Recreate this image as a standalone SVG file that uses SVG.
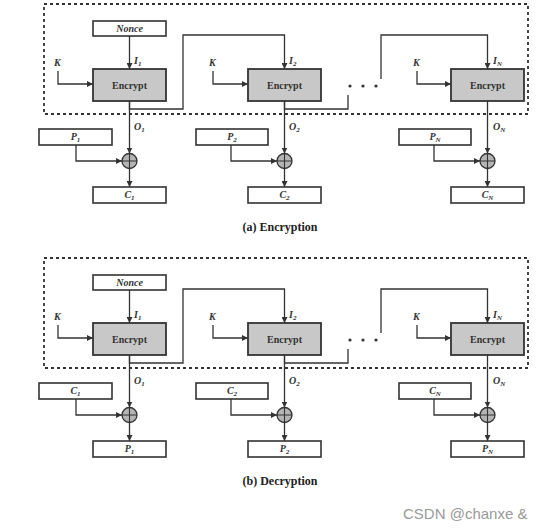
<svg xmlns="http://www.w3.org/2000/svg" width="546" height="530" viewBox="0 0 546 530">
<style>
.bg{fill:#ffffff}
.frame{fill:none;stroke:#333;stroke-width:1.8;stroke-dasharray:3 3}
.box{fill:#ffffff;stroke:#333;stroke-width:1.6}
.enc{fill:#c8c8c8;stroke:#333;stroke-width:1.8}
.xor{fill:#b4b4b4;stroke:#333;stroke-width:1.3}
.ln{fill:none;stroke:#333;stroke-width:1.3}
.lbl{font-family:"Liberation Serif","Times New Roman",serif;font-weight:bold;font-style:italic;font-size:10px;fill:#333}
.et{font-family:"Liberation Serif","Times New Roman",serif;font-weight:bold;font-size:10px;fill:#333;text-anchor:middle}
.mid{text-anchor:middle}
.sub{font-size:7px}
.cap{font-family:"Liberation Serif","Times New Roman",serif;font-weight:bold;font-size:12px;fill:#222;text-anchor:middle}
.wm{font-family:"Liberation Sans",Arial,sans-serif;font-size:15px;fill:#999}
</style>
<defs>
<marker id="ah" viewBox="0 0 8 8" refX="8" refY="4" markerWidth="6" markerHeight="6" markerUnits="userSpaceOnUse" orient="auto">
<path d="M0 0 L8 4 L0 8 Z" fill="#333"/>
</marker>
<g id="xorsym">
<circle r="7.5" class="xor"/>
<path d="M-7.5 0 H7.5 M0 -7.5 V7.5" stroke="#333" stroke-width="1.1"/>
</g>
</defs>
<rect class="bg" x="0" y="0" width="546" height="530"/>

<!-- ===== (a) Encryption ===== -->
<g id="panelA">
<rect id="frameA" class="frame" x="44" y="4" width="484" height="110"/>
<g id="connectorsA">
<path class="ln" d="M129.5 36 V69" marker-end="url(#ah)"/>
<path class="ln" d="M58 71 V84 H93" marker-end="url(#ah)"/>
<path class="ln" d="M213 71 V84 H248" marker-end="url(#ah)"/>
<path class="ln" d="M417 71 V84 H451" marker-end="url(#ah)"/>
<path class="ln" d="M129.5 101 V109 H183 V35 H284.5 V69" marker-end="url(#ah)"/>
<path class="ln" d="M284.5 101 V109 H348 V95"/>
<path class="ln" d="M381 79 V35 H487.5 V69" marker-end="url(#ah)"/>
<path class="ln" d="M129.5 101 V153.5" marker-end="url(#ah)"/>
<path class="ln" d="M284.5 101 V153.5" marker-end="url(#ah)"/>
<path class="ln" d="M487.5 101 V153.5" marker-end="url(#ah)"/>
<path class="ln" d="M76 145 V161 H122" marker-end="url(#ah)"/>
<path class="ln" d="M231 145 V161 H277" marker-end="url(#ah)"/>
<path class="ln" d="M434 145 V161 H480" marker-end="url(#ah)"/>
<path class="ln" d="M129.5 168.5 V187" marker-end="url(#ah)"/>
<path class="ln" d="M284.5 168.5 V187" marker-end="url(#ah)"/>
<path class="ln" d="M487.5 168.5 V187" marker-end="url(#ah)"/>
<circle cx="350" cy="86" r="1.6" fill="#333"/>
<circle cx="363" cy="86" r="1.6" fill="#333"/>
<circle cx="376" cy="86" r="1.6" fill="#333"/>
</g>
<g id="a-nonce"><rect class="box" x="93" y="21" width="73" height="15"/><text class="lbl mid" x="129.5" y="32">Nonce</text></g>
<g id="a-enc1"><rect class="enc" x="93" y="69" width="73" height="32"/><text class="et" x="129.5" y="89">Encrypt</text></g>
<g id="a-enc2"><rect class="enc" x="248" y="69" width="73" height="32"/><text class="et" x="284.5" y="89">Encrypt</text></g>
<g id="a-encN"><rect class="enc" x="451" y="69" width="73" height="32"/><text class="et" x="487.5" y="89">Encrypt</text></g>
<g id="a-labels">
<text class="lbl" x="54" y="66">K</text>
<text class="lbl" x="209" y="66">K</text>
<text class="lbl" x="413" y="66">K</text>
<text class="lbl" x="134" y="64">I<tspan class="sub" dy="2">1</tspan></text>
<text class="lbl" x="289" y="64">I<tspan class="sub" dy="2">2</tspan></text>
<text class="lbl" x="493" y="64">I<tspan class="sub" dy="2">N</tspan></text>
<text class="lbl" x="134" y="130">O<tspan class="sub" dy="2">1</tspan></text>
<text class="lbl" x="289" y="130">O<tspan class="sub" dy="2">2</tspan></text>
<text class="lbl" x="493" y="130">O<tspan class="sub" dy="2">N</tspan></text>
</g>
<g id="a-p1"><rect class="box" x="39" y="129" width="73" height="16"/><text class="lbl mid" x="75.5" y="140">P<tspan class="sub" dy="2">1</tspan></text></g>
<g id="a-p2"><rect class="box" x="196" y="129" width="72" height="16"/><text class="lbl mid" x="232" y="140">P<tspan class="sub" dy="2">2</tspan></text></g>
<g id="a-pN"><rect class="box" x="399" y="129" width="72" height="16"/><text class="lbl mid" x="435" y="140">P<tspan class="sub" dy="2">N</tspan></text></g>
<g id="a-x1"><use href="#xorsym" x="129.5" y="161"/></g>
<g id="a-x2"><use href="#xorsym" x="284.5" y="161"/></g>
<g id="a-xN"><use href="#xorsym" x="487.5" y="161"/></g>
<g id="a-c1"><rect class="box" x="93" y="187" width="73" height="16"/><text class="lbl mid" x="129.5" y="198">C<tspan class="sub" dy="2">1</tspan></text></g>
<g id="a-c2"><rect class="box" x="248" y="187" width="73" height="16"/><text class="lbl mid" x="284.5" y="198">C<tspan class="sub" dy="2">2</tspan></text></g>
<g id="a-cN"><rect class="box" x="451" y="187" width="73" height="16"/><text class="lbl mid" x="487.5" y="198">C<tspan class="sub" dy="2">N</tspan></text></g>
<text class="cap" x="280" y="231">(a) Encryption</text>
</g>

<!-- ===== (b) Decryption ===== -->
<g id="panelB" transform="translate(0,254)">
<rect id="frameB" class="frame" x="44" y="4" width="484" height="110"/>
<g id="connectorsB">
<path class="ln" d="M129.5 36 V69" marker-end="url(#ah)"/>
<path class="ln" d="M58 71 V84 H93" marker-end="url(#ah)"/>
<path class="ln" d="M213 71 V84 H248" marker-end="url(#ah)"/>
<path class="ln" d="M417 71 V84 H451" marker-end="url(#ah)"/>
<path class="ln" d="M129.5 101 V109 H183 V35 H284.5 V69" marker-end="url(#ah)"/>
<path class="ln" d="M284.5 101 V109 H348 V95"/>
<path class="ln" d="M381 79 V35 H487.5 V69" marker-end="url(#ah)"/>
<path class="ln" d="M129.5 101 V153.5" marker-end="url(#ah)"/>
<path class="ln" d="M284.5 101 V153.5" marker-end="url(#ah)"/>
<path class="ln" d="M487.5 101 V153.5" marker-end="url(#ah)"/>
<path class="ln" d="M76 145 V161 H122" marker-end="url(#ah)"/>
<path class="ln" d="M231 145 V161 H277" marker-end="url(#ah)"/>
<path class="ln" d="M434 145 V161 H480" marker-end="url(#ah)"/>
<path class="ln" d="M129.5 168.5 V187" marker-end="url(#ah)"/>
<path class="ln" d="M284.5 168.5 V187" marker-end="url(#ah)"/>
<path class="ln" d="M487.5 168.5 V187" marker-end="url(#ah)"/>
<circle cx="350" cy="86" r="1.6" fill="#333"/>
<circle cx="363" cy="86" r="1.6" fill="#333"/>
<circle cx="376" cy="86" r="1.6" fill="#333"/>
</g>
<g id="b-nonce"><rect class="box" x="93" y="21" width="73" height="15"/><text class="lbl mid" x="129.5" y="32">Nonce</text></g>
<g id="b-enc1"><rect class="enc" x="93" y="69" width="73" height="32"/><text class="et" x="129.5" y="89">Encrypt</text></g>
<g id="b-enc2"><rect class="enc" x="248" y="69" width="73" height="32"/><text class="et" x="284.5" y="89">Encrypt</text></g>
<g id="b-encN"><rect class="enc" x="451" y="69" width="73" height="32"/><text class="et" x="487.5" y="89">Encrypt</text></g>
<g id="b-labels">
<text class="lbl" x="54" y="66">K</text>
<text class="lbl" x="209" y="66">K</text>
<text class="lbl" x="413" y="66">K</text>
<text class="lbl" x="134" y="64">I<tspan class="sub" dy="2">1</tspan></text>
<text class="lbl" x="289" y="64">I<tspan class="sub" dy="2">2</tspan></text>
<text class="lbl" x="493" y="64">I<tspan class="sub" dy="2">N</tspan></text>
<text class="lbl" x="134" y="130">O<tspan class="sub" dy="2">1</tspan></text>
<text class="lbl" x="289" y="130">O<tspan class="sub" dy="2">2</tspan></text>
<text class="lbl" x="493" y="130">O<tspan class="sub" dy="2">N</tspan></text>
</g>
<g id="b-c1"><rect class="box" x="39" y="129" width="73" height="16"/><text class="lbl mid" x="75.5" y="140">C<tspan class="sub" dy="2">1</tspan></text></g>
<g id="b-c2"><rect class="box" x="196" y="129" width="72" height="16"/><text class="lbl mid" x="232" y="140">C<tspan class="sub" dy="2">2</tspan></text></g>
<g id="b-cN"><rect class="box" x="399" y="129" width="72" height="16"/><text class="lbl mid" x="435" y="140">C<tspan class="sub" dy="2">N</tspan></text></g>
<g id="b-x1"><use href="#xorsym" x="129.5" y="161"/></g>
<g id="b-x2"><use href="#xorsym" x="284.5" y="161"/></g>
<g id="b-xN"><use href="#xorsym" x="487.5" y="161"/></g>
<g id="b-p1"><rect class="box" x="93" y="187" width="73" height="16"/><text class="lbl mid" x="129.5" y="198">P<tspan class="sub" dy="2">1</tspan></text></g>
<g id="b-p2"><rect class="box" x="248" y="187" width="73" height="16"/><text class="lbl mid" x="284.5" y="198">P<tspan class="sub" dy="2">2</tspan></text></g>
<g id="b-pN"><rect class="box" x="451" y="187" width="73" height="16"/><text class="lbl mid" x="487.5" y="198">P<tspan class="sub" dy="2">N</tspan></text></g>
<text class="cap" x="280" y="231">(b) Decryption</text>
</g>

<text class="wm" x="403" y="519">CSDN @chanxe &amp;</text>
</svg>
